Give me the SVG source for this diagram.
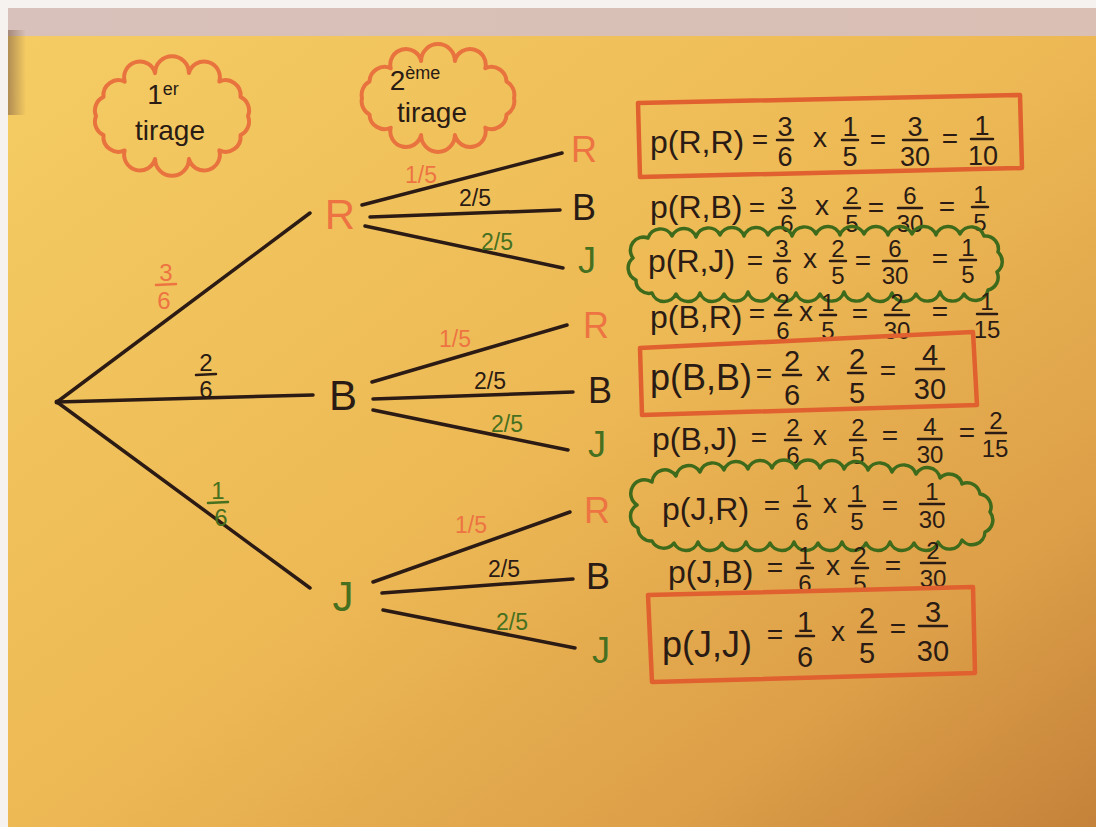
<svg xmlns="http://www.w3.org/2000/svg" width="1096" height="827" viewBox="0 0 1096 827">
<defs>
<linearGradient id="paper" x1="0" y1="0" x2="1" y2="1">
<stop offset="0" stop-color="#F5CD64"/>
<stop offset="0.5" stop-color="#EDB955"/>
<stop offset="0.8" stop-color="#DD9F48"/>
<stop offset="1" stop-color="#C4823A"/>
</linearGradient>
<linearGradient id="wall" x1="0" y1="0" x2="1" y2="0">
<stop offset="0" stop-color="#D8C1BA"/>
<stop offset="1" stop-color="#D9BFB4"/>
</linearGradient>
<linearGradient id="shadow" x1="0" y1="0" x2="1" y2="0">
<stop offset="0" stop-color="#7a5a45" stop-opacity="0.55"/>
<stop offset="1" stop-color="#7a5a45" stop-opacity="0"/>
</linearGradient>
<style>
text{font-family:"Liberation Sans",Arial,sans-serif;fill:#2a1b14}
.br{stroke:#2b1b14;stroke-width:3.5;stroke-linecap:round;fill:none}
.orange{fill:#ED7442}
.green{fill:#46701F}
.ink{fill:#2a1b14}
.cloudO{fill:none;stroke:#E8733F;stroke-width:4;stroke-linejoin:round}
.cloudG{fill:none;stroke:#3E6A1C;stroke-width:3.5;stroke-linejoin:round}
.box{fill:none;stroke:#E0602F;stroke-width:4.5;stroke-linejoin:round}
.node{font-size:42px;text-anchor:middle}
.leaf{font-size:36px;text-anchor:middle}
.lab{font-size:23px;text-anchor:middle}
.p{font-size:32px}
.pb{font-size:36px}
.sym{font-size:28px;text-anchor:middle}
.fr text{font-size:24px;text-anchor:middle}
.fr1 text{font-size:27px;text-anchor:middle}
.frb text{font-size:29px;text-anchor:middle}
.fr line,.fr1 line,.frb line,.f1 line{stroke-width:2.5;stroke-linecap:round}
.fr line,.fr1 line,.frb line{stroke:#2a1b14}
.f1 text{font-size:24px;text-anchor:middle}
.hd{font-size:28px;text-anchor:middle}
.sup{font-size:18px}
</style>
</defs>

<!-- background -->
<rect x="0" y="0" width="1096" height="827" fill="#F6F2EF"/>
<rect x="8" y="8" width="1088" height="819" fill="url(#paper)"/>
<rect x="8" y="8" width="1088" height="28" fill="url(#wall)"/>
<rect x="8" y="30" width="18" height="85" fill="url(#shadow)"/>

<!-- header clouds -->
<g id="header-1er-tirage">
<path class="cloudO" d="M248,116 A15,15 0 0 1 240.5,135.1 A15,15 0 0 1 219.3,150.4 A15,15 0 0 1 188.9,158.9 A15,15 0 0 1 155.1,158.9 A15,15 0 0 1 124.7,150.4 A15,15 0 0 1 103.5,135.1 A15,15 0 0 1 96,116 A15,15 0 0 1 103.5,96.9 A15,15 0 0 1 124.7,81.6 A15,15 0 0 1 155.1,73.1 A15,15 0 0 1 188.9,73.1 A15,15 0 0 1 219.3,81.6 A15,15 0 0 1 240.5,96.9 A15,15 0 0 1 248,116 Z"/>
<text class="hd" x="163" y="104">1<tspan class="sup" dy="-9">er</tspan></text>
<text class="hd" x="170" y="140">tirage</text>
</g>
<g id="header-2eme-tirage">
<path class="cloudO" d="M514,98 A15,15 0 0 1 506.5,114.5 A15,15 0 0 1 485.3,127.7 A15,15 0 0 1 454.9,135 A15,15 0 0 1 421.1,135 A15,15 0 0 1 390.7,127.7 A15,15 0 0 1 369.5,114.5 A15,15 0 0 1 362,98 A15,15 0 0 1 369.5,81.5 A15,15 0 0 1 390.7,68.3 A15,15 0 0 1 421.1,61 A15,15 0 0 1 454.9,61 A15,15 0 0 1 485.3,68.3 A15,15 0 0 1 506.5,81.5 A15,15 0 0 1 514,98 Z"/>
<text class="hd" x="415" y="90">2<tspan class="sup" dy="-11">ème</tspan></text>
<text class="hd" x="432" y="122">tirage</text>
</g>

<!-- connectors -->
<g id="connectors">
<line class="br" x1="57" y1="402" x2="310" y2="213"/>
<line class="br" x1="57" y1="402" x2="313" y2="395"/>
<line class="br" x1="57" y1="402" x2="310" y2="588"/>
<line class="br" x1="362" y1="205" x2="562" y2="153"/>
<line class="br" x1="370" y1="217" x2="560" y2="210"/>
<line class="br" x1="365" y1="226" x2="563" y2="268"/>
<line class="br" x1="372" y1="382" x2="567" y2="325"/>
<line class="br" x1="373" y1="399" x2="573" y2="392"/>
<line class="br" x1="373" y1="410" x2="568" y2="450"/>
<line class="br" x1="373" y1="582" x2="570" y2="512"/>
<line class="br" x1="382" y1="593" x2="573" y2="579"/>
<line class="br" x1="383" y1="610" x2="575" y2="648"/>
</g>

<!-- branch labels -->
<g id="branch-labels">
<g class="f1"><text class="orange" x="166" y="281">3</text><line x1="156" y1="285" x2="176" y2="284" stroke="#ED7442"/><text class="orange" x="164" y="309">6</text></g>
<g class="f1"><text x="206" y="371">2</text><line x1="196" y1="375" x2="216" y2="374" stroke="#2a1b14"/><text x="206" y="398">6</text></g>
<g class="f1"><text class="green" x="218" y="499">1</text><line x1="208" y1="503" x2="228" y2="502" stroke="#46701F"/><text class="green" x="221" y="526">6</text></g>
<text class="lab orange" x="421" y="183">1/5</text>
<text class="lab ink" x="475" y="206">2/5</text>
<text class="lab green" x="497" y="250">2/5</text>
<text class="lab orange" x="455" y="347">1/5</text>
<text class="lab ink" x="490" y="389">2/5</text>
<text class="lab green" x="507" y="432">2/5</text>
<text class="lab orange" x="471" y="533">1/5</text>
<text class="lab ink" x="504" y="577">2/5</text>
<text class="lab green" x="512" y="630">2/5</text>
</g>

<!-- nodes -->
<g id="node-root"><circle cx="57" cy="402" r="2.5" fill="#2b1b14"/></g>
<g id="node-R"><text class="node orange" x="340" y="229">R</text></g>
<g id="node-B"><text class="node ink" x="343" y="410">B</text></g>
<g id="node-J"><text class="node green" x="343" y="611">J</text></g>
<g id="leaf-RR"><text class="leaf orange" x="584" y="162" font-size="40">R</text></g>
<g id="leaf-RB"><text class="leaf ink" x="584" y="220">B</text></g>
<g id="leaf-RJ"><text class="leaf green" x="587" y="273">J</text></g>
<g id="leaf-BR"><text class="leaf orange" x="596" y="338">R</text></g>
<g id="leaf-BB"><text class="leaf ink" x="600" y="403">B</text></g>
<g id="leaf-BJ"><text class="leaf green" x="597" y="457">J</text></g>
<g id="leaf-JR"><text class="leaf orange" x="597" y="523" font-size="42">R</text></g>
<g id="leaf-JB"><text class="leaf ink" x="598" y="589" font-size="31">B</text></g>
<g id="leaf-JJ"><text class="leaf green" x="601" y="663" font-size="40">J</text></g>

<!-- formulas -->
<g id="calc-RR">
<path class="box" d="M638,103 L1020,95 L1022,168 L640,177 Z"/>
<text class="p" x="650" y="153">p(R,R)</text>
<text class="sym" x="760" y="149">=</text>
<g class="fr1"><text x="785" y="136">3</text><line x1="777" y1="140" x2="793" y2="140"/><text x="785" y="166">6</text></g>
<text class="sym" x="820" y="147">x</text>
<g class="fr1"><text x="850" y="136">1</text><line x1="842" y1="140" x2="858" y2="140"/><text x="850" y="166">5</text></g>
<text class="sym" x="878" y="149">=</text>
<g class="fr1"><text x="915" y="136">3</text><line x1="903" y1="140" x2="927" y2="140"/><text x="915" y="166">30</text></g>
<text class="sym" x="950" y="148">=</text>
<g class="fr1"><text x="982" y="135">1</text><line x1="971" y1="139" x2="993" y2="139"/><text x="983" y="165">10</text></g>
</g>

<g id="calc-RB">
<text class="p" x="650" y="218">p(R,B)</text>
<text class="sym" x="757" y="217">=</text>
<g class="fr"><text x="787" y="204">3</text><line x1="779" y1="208" x2="795" y2="208"/><text x="787" y="232">6</text></g>
<text class="sym" x="822" y="215">x</text>
<g class="fr"><text x="852" y="204">2</text><line x1="844" y1="208" x2="860" y2="208"/><text x="852" y="232">5</text></g>
<text class="sym" x="876" y="217">=</text>
<g class="fr"><text x="910" y="204">6</text><line x1="898" y1="208" x2="922" y2="208"/><text x="910" y="232">30</text></g>
<text class="sym" x="947" y="216">=</text>
<g class="fr"><text x="980" y="203">1</text><line x1="972" y1="207" x2="988" y2="207"/><text x="980" y="231">5</text></g>
</g>

<g id="calc-RJ">
<path class="cloudG" d="M648,238 A13,13 0 0 1 672,236 A13,13 0 0 1 696,237 A13,13 0 0 1 720,235 A13,13 0 0 1 744,236 A13,13 0 0 1 768,235 A13,13 0 0 1 792,236 A13,13 0 0 1 816,234 A13,13 0 0 1 840,235 A13,13 0 0 1 864,234 A13,13 0 0 1 888,235 A13,13 0 0 1 912,234 A13,13 0 0 1 936,235 A13,13 0 0 1 960,234 A13,13 0 0 1 984,236 A13,13 0 0 1 998,252 A13,13 0 0 1 997,272 A13,13 0 0 1 988,290 A13,13 0 0 1 964,294 A13,13 0 0 1 940,292 A13,13 0 0 1 916,294 A13,13 0 0 1 892,293 A13,13 0 0 1 868,294 A13,13 0 0 1 844,292 A13,13 0 0 1 820,294 A13,13 0 0 1 796,293 A13,13 0 0 1 772,294 A13,13 0 0 1 748,292 A13,13 0 0 1 724,294 A13,13 0 0 1 700,293 A13,13 0 0 1 676,294 A13,13 0 0 1 652,293 A13,13 0 0 1 636,280 A13,13 0 0 1 633,258 A13,13 0 0 1 648,238 Z"/>
<text class="p" x="648" y="272">p(R,J)</text>
<text class="sym" x="755" y="270">=</text>
<g class="fr"><text x="782" y="257">3</text><line x1="774" y1="261" x2="790" y2="261"/><text x="782" y="284">6</text></g>
<text class="sym" x="810" y="268">x</text>
<g class="fr"><text x="838" y="257">2</text><line x1="830" y1="261" x2="846" y2="261"/><text x="838" y="284">5</text></g>
<text class="sym" x="863" y="270">=</text>
<g class="fr"><text x="895" y="257">6</text><line x1="883" y1="261" x2="907" y2="261"/><text x="895" y="284">30</text></g>
<text class="sym" x="940" y="268">=</text>
<g class="fr"><text x="968" y="256">1</text><line x1="960" y1="260" x2="976" y2="260"/><text x="968" y="283">5</text></g>
</g>

<g id="calc-BR">
<text class="p" x="650" y="328">p(B,R)</text>
<text class="sym" x="757" y="323">=</text>
<g class="fr"><text x="783" y="311">2</text><line x1="775" y1="315" x2="791" y2="315"/><text x="783" y="339">6</text></g>
<text class="sym" x="806" y="321">x</text>
<g class="fr"><text x="828" y="311">1</text><line x1="820" y1="315" x2="836" y2="315"/><text x="828" y="339">5</text></g>
<text class="sym" x="860" y="323">=</text>
<g class="fr"><text x="897" y="311">2</text><line x1="885" y1="315" x2="909" y2="315"/><text x="897" y="339">30</text></g>
<text class="sym" x="940" y="321">=</text>
<g class="fr"><text x="987" y="310">1</text><line x1="977" y1="314" x2="997" y2="314"/><text x="987" y="338">15</text></g>
</g>

<g id="calc-BB">
<path class="box" d="M640,348 L973,332 L977,405 L642,415 Z"/>
<text class="pb" x="650" y="390">p(B,B)</text>
<text class="sym" x="764" y="383">=</text>
<g class="frb"><text x="792" y="371">2</text><line x1="783" y1="375" x2="801" y2="375"/><text x="792" y="405">6</text></g>
<text class="sym" x="823" y="381">x</text>
<g class="frb"><text x="857" y="369">2</text><line x1="848" y1="373" x2="866" y2="373"/><text x="857" y="403">5</text></g>
<text class="sym" x="888" y="380">=</text>
<g class="frb"><text x="930" y="365">4</text><line x1="916" y1="369" x2="944" y2="369"/><text x="930" y="399">30</text></g>
</g>

<g id="calc-BJ">
<text class="p" x="652" y="450">p(B,J)</text>
<text class="sym" x="759" y="447">=</text>
<g class="fr"><text x="793" y="436">2</text><line x1="785" y1="440" x2="801" y2="440"/><text x="793" y="464">6</text></g>
<text class="sym" x="820" y="445">x</text>
<g class="fr"><text x="858" y="436">2</text><line x1="850" y1="440" x2="866" y2="440"/><text x="858" y="464">5</text></g>
<text class="sym" x="890" y="445">=</text>
<g class="fr"><text x="930" y="435">4</text><line x1="918" y1="439" x2="942" y2="439"/><text x="930" y="463">30</text></g>
<text class="sym" x="967" y="442">=</text>
<g class="fr"><text x="996" y="429">2</text><line x1="986" y1="433" x2="1006" y2="433"/><text x="995" y="457">15</text></g>
</g>

<g id="calc-JR">
<path class="cloudG" d="M652,482 A13,13 0 0 1 676,476 A13,13 0 0 1 700,472 A13,13 0 0 1 724,470 A13,13 0 0 1 748,469 A13,13 0 0 1 772,468 A13,13 0 0 1 796,468 A13,13 0 0 1 820,468 A13,13 0 0 1 844,469 A13,13 0 0 1 868,470 A13,13 0 0 1 892,472 A13,13 0 0 1 916,474 A13,13 0 0 1 940,478 A13,13 0 0 1 962,484 A13,13 0 0 1 980,494 A13,13 0 0 1 990,512 A13,13 0 0 1 985,532 A13,13 0 0 1 962,540 A13,13 0 0 1 938,542 A13,13 0 0 1 914,543 A13,13 0 0 1 890,542 A13,13 0 0 1 866,543 A13,13 0 0 1 842,542 A13,13 0 0 1 818,543 A13,13 0 0 1 794,542 A13,13 0 0 1 770,543 A13,13 0 0 1 746,542 A13,13 0 0 1 722,543 A13,13 0 0 1 698,542 A13,13 0 0 1 674,543 A13,13 0 0 1 652,541 A13,13 0 0 1 638,528 A13,13 0 0 1 637,505 A13,13 0 0 1 652,482 Z"/>
<text class="p" x="662" y="520">p(J,R)</text>
<text class="sym" x="772" y="515">=</text>
<g class="fr"><text x="802" y="502">1</text><line x1="794" y1="506" x2="810" y2="506"/><text x="802" y="530">6</text></g>
<text class="sym" x="830" y="513">x</text>
<g class="fr"><text x="857" y="502">1</text><line x1="849" y1="506" x2="865" y2="506"/><text x="857" y="530">5</text></g>
<text class="sym" x="890" y="515">=</text>
<g class="fr"><text x="932" y="500">1</text><line x1="920" y1="504" x2="944" y2="504"/><text x="932" y="528">30</text></g>
</g>

<g id="calc-JB">
<text class="p" x="668" y="583">p(J,B)</text>
<text class="sym" x="775" y="577">=</text>
<g class="fr"><text x="805" y="564">1</text><line x1="797" y1="568" x2="813" y2="568"/><text x="805" y="592">6</text></g>
<text class="sym" x="833" y="575">x</text>
<g class="fr"><text x="860" y="564">2</text><line x1="852" y1="568" x2="868" y2="568"/><text x="860" y="592">5</text></g>
<text class="sym" x="893" y="575">=</text>
<g class="fr"><text x="933" y="559">2</text><line x1="921" y1="563" x2="945" y2="563"/><text x="933" y="587">30</text></g>
</g>

<g id="calc-JJ">
<path class="box" d="M648,595 L973,587 L975,673 L652,682 Z"/>
<text class="pb" x="662" y="657">p(J,J)</text>
<text class="sym" x="775" y="644">=</text>
<g class="frb"><text x="805" y="632">1</text><line x1="796" y1="636" x2="814" y2="636"/><text x="805" y="667">6</text></g>
<text class="sym" x="838" y="641">x</text>
<g class="frb"><text x="867" y="628">2</text><line x1="858" y1="632" x2="876" y2="632"/><text x="867" y="663">5</text></g>
<text class="sym" x="898" y="638">=</text>
<g class="frb"><text x="933" y="622">3</text><line x1="919" y1="626" x2="947" y2="626"/><text x="933" y="661">30</text></g>
</g>
</svg>
